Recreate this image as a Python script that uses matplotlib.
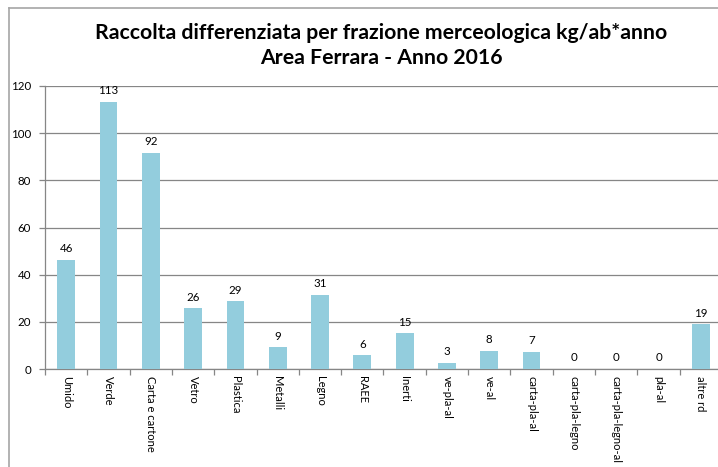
import matplotlib
matplotlib.use("Agg")
import matplotlib.pyplot as plt
from matplotlib.lines import Line2D

categories = ["Umido", "Verde", "Carta e cartone", "Vetro", "Plastica", "Metalli",
              "Legno", "RAEE", "Inerti", "ve-pla-al", "ve-al", "carta-pla-al",
              "carta-pla-legno", "carta-pla-legno-al", "pla-al", "altre rd"]
values = [46.2, 113.3, 91.7, 25.7, 28.8, 9.2, 31.4, 5.9, 15.1, 2.6, 7.7, 7.2,
          0.1, 0.1, 0.1, 19.0]
yticks = [0, 20, 40, 60, 80, 100, 120]

plt.rcParams['font.family'] = ['Lato', 'DejaVu Sans']

W, H = 718, 467
fig = plt.figure(figsize=(W / 100, H / 100), dpi=100)
ax = fig.add_axes([45 / W, (H - 369) / H, (722 - 45) / W, (369 - 86) / H])

grey = "#868686"
x = list(range(len(categories)))
ax.bar(x, values, width=0.42, color="#93CDDD", zorder=3)
for xi, v in zip(x, values):
    ax.annotate(f"{v:.0f}", (xi, v), xytext=(0, 4), textcoords="offset points",
                ha="center", va="bottom", fontsize=8.3, color="#000000")

ax.set_xlim(-0.5, len(categories) - 0.5)
ax.set_ylim(0, 120)
ax.set_yticks(yticks)
ax.set_yticklabels([str(t) for t in yticks], fontsize=8.3)
ax.yaxis.grid(True, color=grey, linewidth=0.9, zorder=0)
ax.set_axisbelow(True)

ax.set_xticks(x)
ax.set_xticklabels(categories, rotation=270, fontsize=8.0, va="top", ha="center")
ax.tick_params(axis="x", which="major", length=0, pad=5)
ax.set_xticks([i + 0.5 for i in range(-1, len(categories))], minor=True)
ax.tick_params(axis="x", which="minor", length=4, color=grey, width=0.9)
ax.tick_params(axis="y", length=4, color=grey, width=0.9, pad=6)

for s in ["top", "right"]:
    ax.spines[s].set_visible(False)
for s in ["left", "bottom"]:
    ax.spines[s].set_color(grey)
    ax.spines[s].set_linewidth(0.9)

fig.text(381 / W, 1 - 33 / H, "Raccolta differenziata per frazione merceologica kg/ab*anno",
         ha="center", va="center", fontsize=15.3, fontweight="bold")
fig.text(381 / W, 1 - 58 / H, "Area Ferrara - Anno 2016",
         ha="center", va="center", fontsize=15.3, fontweight="bold")

border = "#A6A6A6"
fig.add_artist(Line2D([8.5 / W, 8.5 / W], [0, 1 - 7.5 / H], color=border, linewidth=1.2))
fig.add_artist(Line2D([8.5 / W, 1], [1 - 7.5 / H, 1 - 7.5 / H], color=border, linewidth=1.2))

fig.savefig("out.png", dpi=100, facecolor="white")
